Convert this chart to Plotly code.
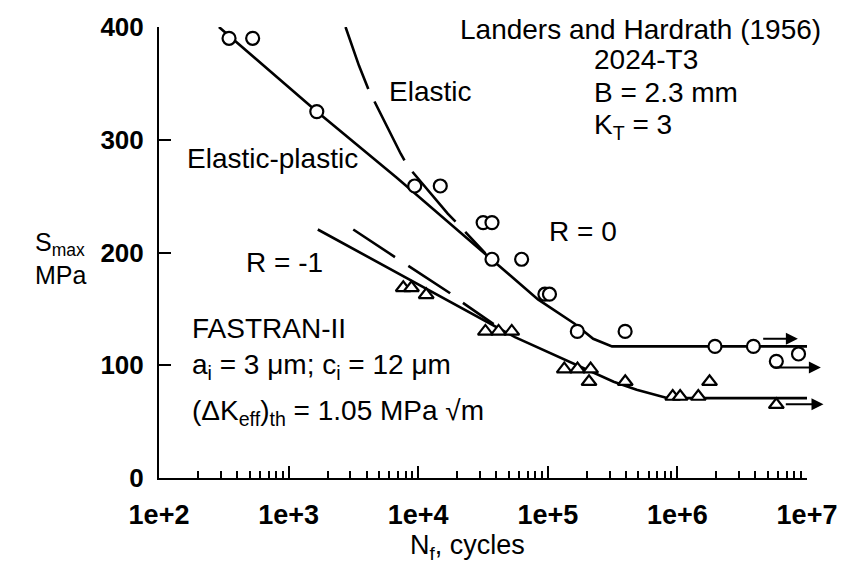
import math
import plotly.graph_objects as go

# Test data, Landers and Hardrath (1956), 2024-T3, B = 2.3 mm, K_T = 3
r0_cycles = [347, 528, 1650, 9400, 14800, 31700, 37100, 37100, 62800,
             95000, 103000, 169000, 395000, 1.95e6, 3.86e6, 5.8e6, 8.6e6]
r0_smax = [390, 390, 325, 259, 259, 226.5, 226.5, 194, 194,
           163, 163, 130, 130, 116.7, 116.7, 103.5, 110]

rm1_cycles = [7670, 8870, 11530, 33000, 41700, 52700, 134000, 169500,
              214000, 208000, 396000, 920000, 1.05e6, 1.45e6, 1.77e6, 5.8e6]
rm1_smax = [168.7, 168.7, 162.5, 130, 130, 130, 96.6, 96.6,
            96.6, 85.4, 85.4, 72.3, 72.3, 72.3, 85.4, 65]

# FASTRAN-II predictions, elastic-plastic (solid)
fit_r0_cycles = [290, 1650, 6800, 37100, 84000, 160000, 224000, 313000, 1e7]
fit_r0_smax = [400, 325, 266.5, 194, 158.4, 137, 123.5, 116.7, 116.7]
fit_rm1_cycles = [1680, 16400, 55800, 322000, 485000, 845000, 1e7]
fit_rm1_smax = [220.4, 158.4, 124.9, 85.4, 78.2, 70.8, 70.8]

# FASTRAN-II predictions, elastic (dashed)
el_r0_cycles = [2750, 3490, 4160, 7330, 8375, 16900, 20700, 33000]
el_r0_smax = [400, 365.8, 343.9, 287.6, 276, 234.4, 224.1, 199.3]
el_rm1_cycles = [3155, 6440, 8375, 17400, 22000, 38200]
el_rm1_smax = [220.4, 196.4, 188.2, 164.3, 155.5, 136.5]

# Run-outs (specimens that did not fail)
runout_from = [4.47e6, 5.47e6, 6.68e6]
runout_to = [8.5e6, 1.28e7, 1.34e7]
runout_smax = [123.4, 98, 65.5]

x_ticks = [1e2, 1e3, 1e4, 1e5, 1e6, 1e7]
x_ticktext = ["1e+2", "1e+3", "1e+4", "1e+5", "1e+6", "1e+7"]
y_ticks = [0, 100, 200, 300, 400]

FONT = "Liberation Sans, Arial, Helvetica, sans-serif"
LW = 2.6

fig = go.Figure()

fig.add_trace(go.Scatter(x=el_r0_cycles, y=el_r0_smax, mode="lines",
                         line=dict(color="black", width=LW, dash="66px,14px")))
fig.add_trace(go.Scatter(x=el_rm1_cycles, y=el_rm1_smax, mode="lines",
                         line=dict(color="black", width=LW, dash="50px,16px")))
fig.add_trace(go.Scatter(x=fit_r0_cycles, y=fit_r0_smax, mode="lines",
                         line=dict(color="black", width=LW)))
fig.add_trace(go.Scatter(x=fit_rm1_cycles, y=fit_rm1_smax, mode="lines",
                         line=dict(color="black", width=LW)))

fig.add_trace(go.Scatter(x=r0_cycles, y=r0_smax, mode="markers", cliponaxis=False,
                         marker=dict(symbol="circle", size=13, color="white",
                                     line=dict(color="black", width=2.2))))
fig.add_trace(go.Scatter(x=rm1_cycles, y=rm1_smax, mode="markers", cliponaxis=False,
                         marker=dict(symbol="triangle-up", size=13, color="white",
                                     line=dict(color="black", width=2.2))))

annotations = []
for n0, n1, s in zip(runout_from, runout_to, runout_smax):
    annotations.append(dict(x=math.log10(n1), y=s, xref="x", yref="y",
                            ax=math.log10(n0), ay=s, axref="x", ayref="y",
                            text="", showarrow=True, arrowhead=2, arrowsize=1.2,
                            arrowwidth=2, arrowcolor="black"))


def label(text, x, y, size=28, xanchor="left", align="left", ref="data"):
    xr, yr = ("x", "y") if ref == "data" else ("paper", "paper")
    annotations.append(dict(x=x, y=y, xref=xr, yref=yr, text=text, showarrow=False,
                            xanchor=xanchor, yanchor="middle", align=align,
                            font=dict(family=FONT, size=size, color="black")))


label("Landers and Hardrath (1956)", 4.306, 398)
label("2024-T3", 5.341, 371)
label("B = 2.3 mm", 5.341, 342)
label("K<sub>T</sub> = 3", 5.341, 312)
label("Elastic", 3.758, 343)
label("Elastic-plastic", 2.198, 283)
label("R = 0", 4.991, 219)
label("R = -1", 2.654, 191)
label("FASTRAN-II", 2.236, 133)
label("a<sub>i</sub> = 3 \u03bcm; c<sub>i</sub> = 12 \u03bcm", 2.236, 99)
label("(\u0394K<sub>eff</sub>)<sub>th</sub> = 1.05 MPa \u221am", 2.236, 58)
label("S<sub>max</sub><br>MPa", -0.152, 0.486, size=25, xanchor="center", ref="paper")
label("N<sub>f</sub>, cycles", 0.476, -0.153, size=27, xanchor="center", ref="paper")

minor_vals = [k * 10 ** e for e in range(2, 7) for k in range(2, 10)]

tick_font = dict(family=FONT, color="black", weight="bold")

fig.update_layout(
    width=849, height=566,
    margin=dict(l=159, r=33, t=21, b=88),
    paper_bgcolor="white", plot_bgcolor="white",
    showlegend=False,
    font=dict(family=FONT, color="black"),
    annotations=annotations,
    xaxis=dict(type="log", range=[2, 7], showgrid=False, zeroline=False,
               showline=True, linecolor="black", linewidth=2,
               tickmode="array", tickvals=x_ticks, ticktext=x_ticktext,
               ticks="inside", ticklen=12, tickwidth=1.5, tickcolor="black",
               ticklabelstandoff=12,
               tickfont=dict(size=27, **tick_font),
               minor=dict(tickmode="array", tickvals=minor_vals, ticks="inside",
                          ticklen=7, tickwidth=1.5, tickcolor="black", showgrid=False)),
    yaxis=dict(range=[0, 400], showgrid=False, zeroline=False,
               showline=True, linecolor="black", linewidth=2,
               tickmode="array", tickvals=y_ticks,
               ticks="inside", ticklen=12, tickwidth=1.5, tickcolor="black",
               ticklabelstandoff=8,
               tickfont=dict(size=26, **tick_font)),
)

fig.write_html("out.html")
